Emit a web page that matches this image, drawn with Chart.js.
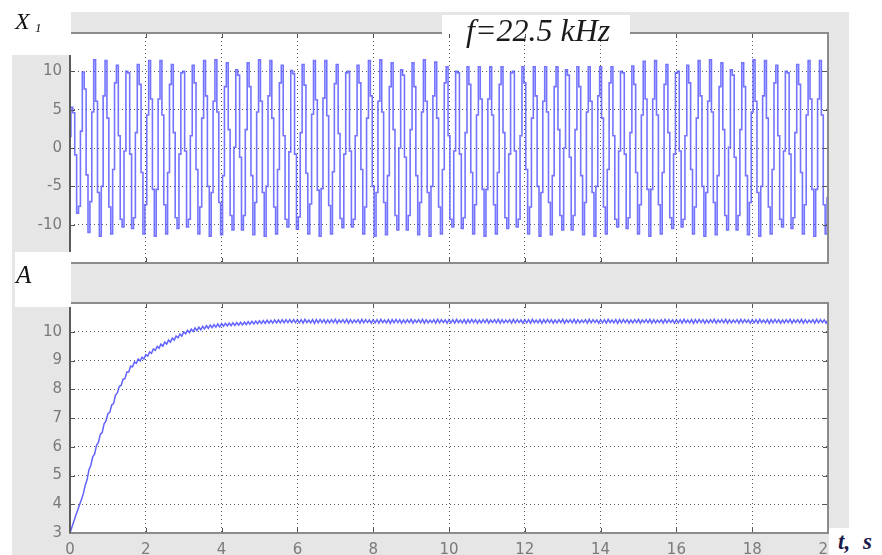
<!DOCTYPE html>
<html lang="en">
<head>
<meta charset="UTF-8">
<title>X1 and A, f=22.5 kHz</title>
<script src="https://cdn.jsdelivr.net/npm/chart.js"></script>
<style>
  body { margin: 0; background: #fff; }
  #fig { position: relative; width: 882px; height: 555px; overflow: hidden; }
  .panel { position: absolute; left: 0; }
  .box { position: absolute; background: #fff; }
  .lbl { position: absolute; font-family: "Liberation Serif", serif; font-style: italic; color: #111; white-space: nowrap; }
</style>
</head>
<body>
<div id="fig">
  <div style="position:absolute;left:12px;top:12px;width:837px;height:543px;background:#e6e6e6"></div>
  <canvas id="topChart" class="panel" width="882" height="280" style="top:0;width:882px;height:280px"></canvas>
  <canvas id="bottomChart" class="panel" width="882" height="275" style="top:280px;width:882px;height:275px"></canvas>

  <div class="box" style="left:12px;top:12px;width:59px;height:43px"></div>
  <div class="box" style="left:442px;top:15px;width:188px;height:19px"></div>
  <div class="box" style="left:15px;top:252px;width:56px;height:55px"></div>
  <div class="box" style="left:829px;top:528px;width:53px;height:27px"></div>

  <span class="lbl" style="left:15px;top:9px;font-size:24px;line-height:24px">X</span>
  <span class="lbl" style="left:35px;top:21px;font-size:13px;line-height:13px">1</span>
  <span class="lbl" style="left:466px;top:14px;font-size:32px;line-height:32px;color:#1a1a1a">f=22.5 kHz</span>
  <span class="lbl" style="left:16px;top:262px;font-size:25px;line-height:25px">A</span>
  <span class="lbl" style="left:838px;top:530px;font-size:23px;line-height:23px;font-weight:bold;color:#1b1b4b;word-spacing:7px">t, s</span>
</div>

<script>
    const sampleStep = 0.05; // s between recorded samples

    const timeTicks = [0, 2, 4, 6, 8, 10, 12, 14, 16, 18, 20];
    const x1Ticks = [-15, -10, -5, 0, 5, 10, 15];
    const aTicks = [3, 4, 5, 6, 7, 8, 9, 10, 11];

    // X1 output signal (samples every 0.05 s)
    const x1Values = [
        1.5, 5.3, 4.6, -0.9, -8.5, -7.6, 2.2, 9.9, 7.7, -3.5, -11.0, -7.0, 4.7, 11.5, 6.1, -5.8, -11.5, -5.0, 6.8, 11.4, 3.9, -7.7, -11.2, -2.8, 8.5, 10.8, 1.6, -9.3, -10.3,
        -0.4, 10.0, 9.8, -0.8, -10.5, -9.1, 2.0, 10.9, 8.3, -3.2, -11.2, -7.4, 4.3, 11.4, 6.4, -5.4, -11.5, -5.4, 6.4, 11.4, 4.3, -7.4, -11.2, -3.2, 8.3, 10.9, 2.0, -9.1, -10.5,
        -0.8, 9.8, 10.0, -0.4, -10.3, -9.3, 1.6, 10.8, 8.5, -2.8, -11.2, -7.7, 3.9, 11.4, 6.8, -5.0, -11.5, -5.8, 6.1, 11.5, 4.7, -7.1, -11.3, -3.6, 8.0, 11.1, 2.4, -8.8, -10.7,
        0.1, 10.2, 9.5, -1.2, -10.7, -8.8, 2.4, 11.1, 8.0, -3.6, -11.3, -7.1, 4.7, 11.5, 6.1, -5.8, -11.5, -5.0, 6.8, 11.4, 3.9, -7.7, -11.2, -2.8, 8.5, 10.8, 1.6, -9.3, -10.3,
        -0.5, 10.1, 9.7, -0.8, -10.6, -9.0, 2.0, 10.9, 8.2, -3.3, -11.2, -7.3, 4.4, 11.4, 6.3, -5.5, -11.5, -5.3, 6.5, 11.4, 4.2, -7.5, -11.2, -3.1, 8.4, 10.9, 1.9, -9.2, -10.4,
        -0.8, 9.8, 10.0, -0.4, -10.3, -9.3, 1.6, 10.8, 8.5, -2.8, -11.2, -7.7, 3.9, 11.4, 6.8, -5.0, -11.5, -5.8, 6.1, 11.5, 4.7, -7.1, -11.3, -3.6, 8.0, 11.1, 2.4, -8.8, -10.7,
        0.0, 10.2, 9.5, -1.2, -10.7, -8.8, 2.4, 11.1, 8.0, -3.6, -11.3, -7.1, 4.7, 11.5, 6.1, -5.8, -11.5, -5.0, 6.8, 11.2, 3.9, -7.7, -11.2, -2.8, 8.5, 10.6, 1.6, -9.3, -10.3,
        -0.4, 10.0, 9.8, -0.8, -10.5, -9.1, 2.0, 10.6, 8.3, -3.2, -11.2, -7.4, 4.3, 10.6, 6.4, -5.4, -11.5, -5.4, 6.4, 10.6, 4.3, -7.4, -11.2, -3.2, 8.3, 10.6, 2.0, -9.1, -10.5,
        -0.8, 9.8, 10.0, -0.4, -10.3, -9.3, 1.6, 10.6, 8.5, -2.8, -11.2, -7.7, 3.9, 10.6, 6.8, -5.0, -11.5, -5.8, 6.1, 10.6, 4.7, -7.1, -11.3, -3.6, 8.0, 10.6, 2.4, -8.8, -10.7,
        0.0, 10.2, 9.5, -1.2, -10.7, -8.8, 2.4, 10.6, 8.0, -3.6, -11.3, -7.1, 4.7, 10.6, 6.1, -5.8, -11.5, -5.0, 6.8, 10.6, 3.9, -7.7, -11.2, -2.8, 8.5, 10.6, 1.6, -9.3, -10.3,
        -0.4, 10.0, 9.8, -0.8, -10.5, -9.1, 2.0, 10.7, 8.3, -3.2, -11.2, -7.4, 4.3, 11.3, 6.4, -5.4, -11.5, -5.4, 6.4, 11.4, 4.3, -7.4, -11.2, -3.2, 8.3, 10.9, 2.0, -9.1, -10.5,
        -0.8, 9.8, 10.0, -0.4, -10.3, -9.3, 1.6, 10.8, 8.5, -2.8, -11.2, -7.7, 3.9, 11.4, 6.8, -5.0, -11.5, -5.8, 6.1, 11.5, 4.7, -7.1, -11.3, -3.6, 8.0, 11.1, 2.4, -8.8, -10.7,
        0.1, 10.2, 9.5, -1.2, -10.7, -8.8, 2.4, 11.1, 8.0, -3.6, -11.3, -7.1, 4.7, 11.5, 6.1, -5.8, -11.5, -5.0, 6.8, 11.4, 3.9, -7.7, -11.2, -2.8, 8.5, 10.8, 1.6, -9.3, -10.3,
        -0.4, 10.0, 9.8, -0.8, -10.5, -9.1, 2.0, 10.9, 8.3, -3.2, -11.2, -7.4, 4.3, 11.4, 6.4, -5.4, -11.5, -5.4, 6.4, 11.4, 4.3, -7.4, -11.2, -6.5
    ];

    // A amplitude (samples every 0.05 s)
    const aValues = [
        3.00, 3.20, 3.40, 3.60, 3.78, 3.97, 4.16, 4.36, 4.65, 4.85, 5.20, 5.35, 5.65, 5.75, 6.05, 6.15, 6.43, 6.50, 6.80, 6.90,
        7.15, 7.20, 7.45, 7.50, 7.80, 7.87, 8.10, 8.13, 8.35, 8.37, 8.60, 8.60, 8.80, 8.78, 8.95, 8.90, 9.05, 8.98, 9.11, 9.05,
        9.20, 9.15, 9.30, 9.25, 9.40, 9.35, 9.49, 9.43, 9.57, 9.50, 9.64, 9.57, 9.71, 9.64, 9.78, 9.71, 9.85, 9.79, 9.92, 9.85,
        9.99, 9.93, 10.05, 9.97, 10.09, 10.01, 10.13, 10.04, 10.16, 10.07, 10.19, 10.10, 10.21, 10.12, 10.23, 10.14, 10.25, 10.16, 10.27, 10.17,
        10.28, 10.19, 10.29, 10.20, 10.30, 10.21, 10.31, 10.22, 10.32, 10.23, 10.33, 10.24, 10.34, 10.25, 10.35, 10.26, 10.36, 10.27, 10.37, 10.28,
        10.38, 10.29, 10.39, 10.29, 10.40, 10.30, 10.40, 10.30, 10.41, 10.31, 10.41, 10.31, 10.42, 10.31, 10.42, 10.32, 10.42, 10.32, 10.42, 10.32, 10.42,
        10.31, 10.42, 10.30, 10.43, 10.32, 10.41, 10.31, 10.42, 10.29, 10.42, 10.31, 10.43, 10.32, 10.42, 10.30, 10.41, 10.31, 10.42, 10.32, 10.43,
        10.30, 10.41, 10.32, 10.42, 10.31, 10.43, 10.30, 10.42, 10.31, 10.41, 10.32, 10.42, 10.30, 10.43, 10.31, 10.42, 10.32, 10.41, 10.30, 10.42,
        10.31, 10.42, 10.30, 10.43, 10.32, 10.41, 10.31, 10.42, 10.29, 10.42, 10.31, 10.43, 10.32, 10.42, 10.30, 10.41, 10.31, 10.42, 10.32, 10.43,
        10.30, 10.41, 10.32, 10.42, 10.31, 10.43, 10.30, 10.42, 10.31, 10.41, 10.32, 10.42, 10.30, 10.43, 10.31, 10.42, 10.32, 10.41, 10.30, 10.42,
        10.31, 10.42, 10.30, 10.43, 10.32, 10.41, 10.31, 10.42, 10.29, 10.42, 10.31, 10.43, 10.32, 10.42, 10.30, 10.41, 10.31, 10.42, 10.32, 10.43,
        10.30, 10.41, 10.32, 10.42, 10.31, 10.43, 10.30, 10.42, 10.31, 10.41, 10.32, 10.42, 10.30, 10.43, 10.31, 10.42, 10.32, 10.41, 10.30, 10.42,
        10.31, 10.42, 10.30, 10.43, 10.32, 10.41, 10.31, 10.42, 10.29, 10.42, 10.31, 10.43, 10.32, 10.42, 10.30, 10.41, 10.31, 10.42, 10.32, 10.43,
        10.30, 10.41, 10.32, 10.42, 10.31, 10.43, 10.30, 10.42, 10.31, 10.41, 10.32, 10.42, 10.30, 10.43, 10.31, 10.42, 10.32, 10.41, 10.30, 10.42,
        10.31, 10.42, 10.30, 10.43, 10.32, 10.41, 10.31, 10.42, 10.29, 10.42, 10.31, 10.43, 10.32, 10.42, 10.30, 10.41, 10.31, 10.42, 10.32, 10.43,
        10.30, 10.41, 10.32, 10.42, 10.31, 10.43, 10.30, 10.42, 10.31, 10.41, 10.32, 10.42, 10.30, 10.43, 10.31, 10.42, 10.32, 10.41, 10.30, 10.42,
        10.31, 10.42, 10.30, 10.43, 10.32, 10.41, 10.31, 10.42, 10.29, 10.42, 10.31, 10.43, 10.32, 10.42, 10.30, 10.41, 10.31, 10.42, 10.32, 10.43,
        10.30, 10.41, 10.32, 10.42, 10.31, 10.43, 10.30, 10.42, 10.31, 10.41, 10.32, 10.42, 10.30, 10.43, 10.31, 10.42, 10.32, 10.41, 10.30, 10.42,
        10.31, 10.42, 10.30, 10.43, 10.32, 10.41, 10.31, 10.42, 10.29, 10.42, 10.31, 10.43, 10.32, 10.42, 10.30, 10.41, 10.31, 10.42, 10.32, 10.43,
        10.30, 10.41, 10.32, 10.42, 10.31, 10.43, 10.30, 10.42, 10.31, 10.41, 10.32, 10.42, 10.30, 10.43, 10.31, 10.42, 10.32, 10.41, 10.30, 10.42
    ];

    // white plot area, box frame and inward ticks like a scope window
    const framePlugin = {
        id: 'frame',
        beforeDraw(chart) {
            const a = chart.chartArea, ctx = chart.ctx;
            ctx.save();
            ctx.fillStyle = '#fff';
            ctx.fillRect(a.left, a.top, a.right - a.left, a.bottom - a.top);
            ctx.restore();
        },
        afterDraw(chart) {
            const a = chart.chartArea, ctx = chart.ctx;
            const xs = chart.scales.x, ys = chart.scales.y;
            ctx.save();
            ctx.strokeStyle = '#555';
            ctx.lineWidth = 1;
            ctx.beginPath();
            xs.ticks.forEach(t => {
                const px = Math.round(xs.getPixelForValue(t.value)) + 0.5;
                ctx.moveTo(px, a.bottom); ctx.lineTo(px, a.bottom - 5);
                ctx.moveTo(px, a.top); ctx.lineTo(px, a.top + 5);
            });
            ys.ticks.forEach(t => {
                const py = Math.round(ys.getPixelForValue(t.value)) + 0.5;
                ctx.moveTo(a.left, py); ctx.lineTo(a.left + 5, py);
                ctx.moveTo(a.right, py); ctx.lineTo(a.right - 5, py);
            });
            ctx.stroke();
            ctx.strokeStyle = '#8c8c8c';
            ctx.lineWidth = 2;
            ctx.strokeRect(a.left, a.top, a.right - a.left, a.bottom - a.top);
            ctx.strokeStyle = '#5a5a5a';
            ctx.beginPath();
            ctx.moveTo(a.left, a.top); ctx.lineTo(a.left, a.bottom);
            ctx.stroke();
            ctx.restore();
        }
    };

    const gridOpts = { color: 'rgba(0,0,0,0.65)', lineWidth: 1, drawTicks: false };
    const borderOpts = { display: false, dash: [1, 3] };
    const tickFont = { color: '#7a7a7a', font: { family: 'DejaVu Sans', size: 15 } };

    const makePanel = (id, values, yTicks, showTimeLabels, padding, xHeight, stepped, lineColor, lineWidth) => {
        return new Chart(document.getElementById(id), {
            type: 'line',
            data: {
                datasets: [{
                    data: values.map((v, i) => ({ x: i * sampleStep, y: v })),
                    borderColor: lineColor,
                    borderWidth: lineWidth,
                    pointRadius: 0,
                    tension: 0,
                    stepped: stepped
                }]
            },
            options: {
                responsive: false,
                animation: false,
                events: [],
                layout: { padding: padding },
                plugins: { legend: { display: false }, tooltip: { enabled: false } },
                scales: {
                    x: {
                        type: 'linear',
                        min: timeTicks[0],
                        max: timeTicks[timeTicks.length - 1],
                        afterBuildTicks: s => { s.ticks = timeTicks.map(v => ({ value: v })); },
                        afterFit: s => { s.height = xHeight; },
                        grid: gridOpts,
                        border: borderOpts,
                        ticks: { ...tickFont, display: showTimeLabels, padding: 8, maxRotation: 0, autoSkip: false }
                    },
                    y: {
                        min: yTicks[0],
                        max: yTicks[yTicks.length - 1],
                        afterBuildTicks: s => { s.ticks = yTicks.map(v => ({ value: v })); },
                        afterFit: s => { s.width = 70; },
                        grid: gridOpts,
                        border: borderOpts,
                        ticks: { ...tickFont, padding: 8, autoSkip: false }
                    }
                }
            },
            plugins: [framePlugin]
        });
    };

    makePanel('topChart', x1Values, x1Ticks, false, { top: 33, right: 54, bottom: 14, left: 0 }, 0, 'middle', 'rgba(70,70,255,0.75)', 1.6);
    makePanel('bottomChart', aValues, aTicks, true, { top: 23, right: 54, bottom: 0, left: 0 }, 22, false, 'rgba(60,60,255,0.8)', 1.5);
</script>
</body>
</html>
